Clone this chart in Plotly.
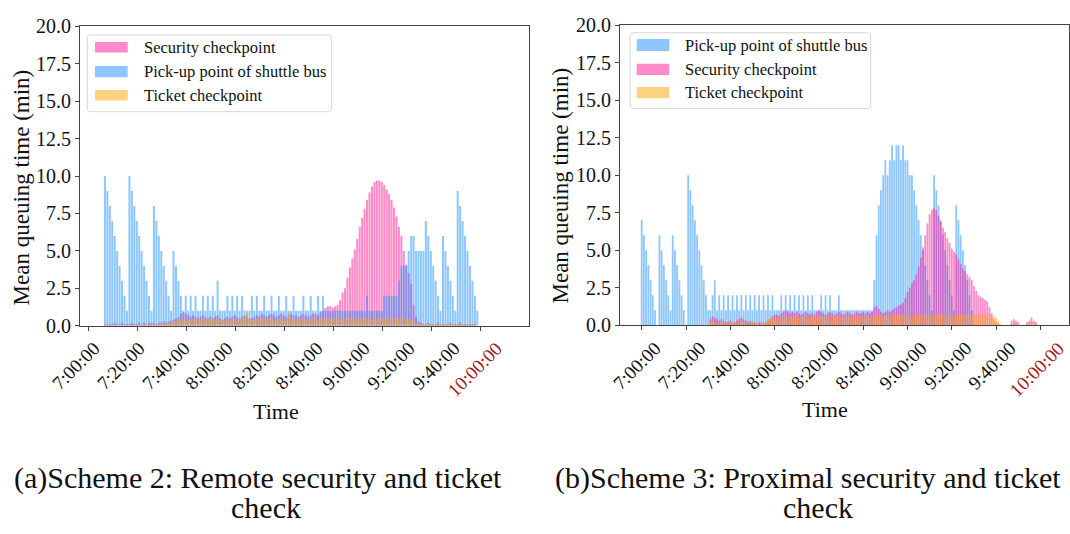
import plotly.graph_objects as go

W, H = 1070, 534

# ---------------- data ----------------
tick_labels = ["7:00:00", "7:20:00", "7:40:00", "8:00:00", "8:20:00",
               "8:40:00", "9:00:00", "9:20:00", "9:40:00", "10:00:00"]
tick_minutes = [0, 20, 40, 60, 80, 100, 120, 140, 160, 180]

series_names = ["Security checkpoint", "Pick-up point of shuttle bus", "Ticket checkpoint"]

# (a) Scheme 2 – one bar per minute, first bar at 7:06:30 on the axis scale
left_first_minute = 6.5
left_pickup = [
    10, 9, 8, 7, 6, 5, 4, 3, 2, 1,
    10, 9, 8, 7, 6, 5, 4, 3, 2, 1,
    8, 7, 6, 5, 4, 3, 2, 1,
    5, 4, 3, 2, 1,
    2, 1, 2, 1, 2, 1, 1, 2, 1, 2,
    1, 2, 1, 3, 1, 1, 1, 2, 1, 2,
    1, 2, 1, 2, 1, 1, 1, 2, 1, 2,
    1, 1, 2, 1, 1, 2, 1, 1, 2, 1,
    1, 2, 1, 1, 2, 1, 1, 1, 2, 1,
    1, 2, 1, 1, 2, 1, 2, 1, 1, 1,
    1, 1, 1, 1, 1, 1, 1, 1, 1, 1,
    1, 1, 1, 1, 2, 1, 1, 1, 1, 1,
    1, 2, 2, 2, 2, 2, 2, 3, 4, 4,
    4, 5, 6, 6, 5, 5, 5, 5, 7, 6,
    5, 4, 3, 2, 1, 6, 5, 4, 3, 2,
    1, 9, 8, 7, 6, 5, 4, 3, 2, 1,
]
left_security = [
    0.1, 0.1, 0.1, 0.1, 0.2, 0.1, 0.1, 0.2, 0.1, 0.1,
    0.1, 0.2, 0.1, 0.1, 0.2, 0.1, 0.2, 0.1, 0.2, 0.2,
    0.2, 0.1, 0.2, 0.2, 0.3, 0.2, 0.3, 0.3, 0.4, 0.5,
    0.6, 0.8, 0.9, 0.8, 0.7, 0.6, 0.7, 0.6, 0.5, 0.6,
    0.7, 0.6, 0.5, 0.6, 0.5, 0.6, 0.7, 0.5, 0.4, 0.5,
    0.6, 0.5, 0.6, 0.7, 0.6, 0.5, 0.6, 0.7, 0.6, 0.5,
    0.5, 0.6, 0.7, 0.6, 0.8, 0.7, 0.6, 0.7, 0.8, 0.7,
    0.6, 0.7, 0.8, 0.7, 0.6, 0.7, 0.8, 0.7, 0.7, 0.6,
    0.7, 0.8, 0.7, 0.6, 0.7, 0.8, 0.8, 0.7, 0.9, 1.0,
    1.2, 1.3, 1.3, 1.2, 1.3, 1.4, 1.7, 2.2, 2.5, 3.2,
    3.9, 4.5, 5.1, 5.8, 6.6, 7.2, 7.8, 8.4, 8.9, 9.3,
    9.6, 9.7, 9.7, 9.6, 9.4, 9.1, 8.8, 8.4, 7.9, 7.3,
    6.6, 6.0, 5.0, 4.1, 3.5, 2.8, 1.4, 0.6, 0.3, 0.2,
    0.1, 0.1, 0.2, 0.1, 0.1, 0.1, 0.2, 0.1, 0.1, 0.1,
    0.1, 0.2, 0.1, 0.1, 0.1, 0.2, 0.1, 0.1, 0.1, 0.1,
    0.1, 0.1, 0.0,
]
left_ticket = [
    0.0, 0.0, 0.0, 0.0, 0.1, 0.0, 0.0, 0.1, 0.0, 0.0,
    0.0, 0.1, 0.0, 0.0, 0.1, 0.0, 0.1, 0.0, 0.1, 0.1,
    0.1, 0.1, 0.1, 0.2, 0.2, 0.1, 0.2, 0.2, 0.3, 0.3,
    0.4, 0.5, 0.4, 0.4, 0.5, 0.4, 0.4, 0.5, 0.4, 0.4,
    0.5, 0.4, 0.4, 0.5, 0.4, 0.4, 0.5, 0.4, 0.3, 0.4,
    0.4, 0.4, 0.5, 0.4, 0.4, 0.4, 0.5, 0.6, 0.9, 0.4,
    0.4, 0.4, 0.5, 0.4, 0.5, 0.5, 0.4, 0.5, 0.5, 0.4,
    0.4, 0.5, 0.5, 0.4, 0.4, 0.9, 0.5, 0.5, 0.4, 0.4,
    0.5, 0.5, 0.4, 0.4, 0.5, 0.5, 0.5, 0.4, 0.5, 0.5,
    0.5, 0.5, 0.5, 0.5, 0.5, 0.4, 0.5, 0.5, 0.5, 0.5,
    0.5, 0.5, 0.5, 0.4, 0.5, 0.5, 0.5, 0.5, 0.5, 0.4,
    0.5, 0.5, 0.5, 0.5, 0.5, 0.4, 0.5, 0.5, 0.5, 0.5,
    0.5, 0.5, 0.5, 0.5, 0.4, 0.4, 0.3, 0.2, 0.1, 0.1,
    0.1, 0.1, 0.1, 0.1, 0.1, 0.1, 0.1, 0.1, 0.1, 0.1,
    0.1, 0.1, 0.1, 0.1, 0.1, 0.1, 0.1, 0.1, 0.1, 0.1,
    0.1, 0.1, 0.0,
]

# (b) Scheme 3 – one bar per minute from 7:00:00
right_first_minute = 0
right_pickup = [
    7, 6, 5, 4, 3, 2, 1,
    0,
    6, 5, 4, 3, 2, 1,
    6, 5, 4, 3, 2, 1,
    0,
    10, 9, 8, 7, 6, 5, 4, 3, 2, 1,
    1, 2, 3, 1, 2, 1, 2, 1, 2, 1,
    2, 1, 2, 1, 2, 1, 2, 1, 2, 1,
    2, 1, 2, 1, 2, 1, 2, 1, 2, 1,
    1, 1, 2, 1, 2, 1, 2, 1, 2, 1,
    2, 1, 2, 1, 2, 1, 2, 1, 1, 1,
    2, 1, 2, 1, 2, 1, 1, 1, 2, 1,
    1, 1, 1, 1, 1, 1, 1, 1, 1, 1,
    1, 1, 1, 1, 3, 6, 8, 9, 10, 11,
    10, 11, 12, 11, 12, 12, 11, 12, 11, 11,
    10, 10, 9, 8, 7, 6, 5, 4, 3, 2,
    1, 10, 9, 8, 7, 6, 5, 4, 3, 2,
    1, 8, 7, 6, 5, 4, 3, 2, 1,
]
right_security = [
    0, 0, 0, 0, 0, 0, 0, 0, 0, 0,
    0, 0, 0, 0, 0, 0, 0, 0, 0, 0,
    0, 0, 0, 0, 0, 0, 0, 0, 0, 0, 0,
    0.4, 0.6, 0.5, 0.4, 0.3, 0.4, 0.3, 0.2, 0.2, 0.3,
    0.2, 0.2, 0.3, 0.4, 0.5, 0.4, 0.3, 0.2, 0.3, 0.2,
    0.2, 0.1, 0.2, 0.2, 0.1, 0.2, 0.3, 0.4, 0.6, 0.7,
    0.7, 0.6, 0.8, 0.9, 1.0, 0.9, 0.8, 0.9, 0.8, 0.9,
    0.8, 0.7, 0.8, 0.9, 0.8, 0.7, 0.8, 0.7, 0.9, 1.0,
    0.9, 0.8, 0.7, 0.8, 0.9, 0.8, 0.7, 0.8, 0.9, 0.8,
    0.7, 0.8, 0.9, 0.8, 0.7, 0.8, 0.9, 0.8, 0.8, 0.9,
    0.8, 0.9, 0.8, 0.9, 1.2, 1.3, 1.1, 0.9, 0.8, 0.9,
    1.0, 0.9, 1.0, 1.1, 1.2, 1.3, 1.4, 1.5, 1.8, 2.2,
    2.5, 2.8, 3.0, 3.4, 3.9, 4.5, 5.2, 6.0, 6.8, 7.4,
    7.7, 7.8, 7.7, 7.3, 6.9, 6.5, 6.2, 5.8, 5.5, 5.1,
    4.9, 4.7, 4.4, 4.1, 3.8, 3.6, 3.4, 3.2, 3.0, 2.6,
    2.3, 2.0, 1.9, 1.8, 1.7, 1.6, 1.2, 0.8, 0.4, 0.2,
    0.1, 0, 0, 0, 0, 0, 0.3, 0.4, 0.3, 0.2,
    0, 0, 0, 0.2, 0.3, 0.5, 0.3, 0.2, 0,
]
right_ticket = [
    0, 0, 0, 0, 0, 0, 0, 0, 0, 0,
    0, 0, 0, 0, 0, 0, 0, 0, 0, 0,
    0, 0, 0, 0, 0, 0, 0, 0, 0, 0, 0,
    0.2, 0.3, 0.2, 0.1, 0.2, 0.2, 0.3, 0.2, 0.1, 0.2,
    0.2, 0.1, 0.2, 0.3, 0.3, 0.2, 0.2, 0.1, 0.2, 0.2,
    0.1, 0.2, 0.1, 0.1, 0.2, 0.3, 0.4, 0.5, 0.5, 0.4,
    0.5, 0.6, 0.5, 0.6, 0.6, 0.5, 0.6, 0.5, 0.6, 0.6,
    0.5, 0.6, 0.6, 0.5, 0.6, 0.5, 0.6, 0.6, 0.5, 0.6,
    0.6, 0.5, 0.6, 0.6, 0.5, 0.6, 0.6, 0.6, 0.5, 0.6,
    0.6, 0.5, 0.6, 0.6, 0.6, 0.5, 0.6, 0.6, 0.6, 0.5,
    0.6, 0.6, 0.5, 0.6, 0.7, 0.6, 0.6, 0.7, 0.6, 0.6,
    0.7, 0.6, 0.7, 0.7, 0.6, 0.7, 0.7, 0.7, 0.6, 0.7,
    0.7, 0.7, 0.7, 0.6, 0.7, 0.7, 0.7, 0.7, 0.7, 0.7,
    0.7, 0.7, 0.7, 0.7, 0.7, 0.7, 0.7, 0.6, 0.7, 0.7,
    0.7, 0.7, 0.7, 0.7, 0.7, 0.7, 0.7, 0.7, 0.7, 0.7,
    0.7, 0.7, 0.7, 0.7, 0.7, 0.7, 0.7, 0.6, 0.6, 0.5,
    0.3, 0.1, 0, 0, 0, 0, 0.1, 0.2, 0.1, 0.1,
    0, 0, 0, 0.1, 0.2, 0.1, 0.2, 0.1, 0,
]

captions = [["(a)Scheme 2: Remote security and ticket", "check"],
            ["(b)Scheme 3: Proximal security and ticket", "check"]]

# ---------------- styles ----------------
FONT = "Liberation Serif, Times New Roman, serif"
C_SEC = "rgba(255,20,147,0.5)"
C_BUS = "rgba(30,144,255,0.5)"
C_TIC = "rgba(255,165,0,0.5)"
S_SEC = "rgb(255,138,201)"
S_BUS = "rgb(142,199,255)"
S_TIC = "rgb(255,210,128)"
AX = "#444444"
RED = "#a31a1a"


def minutes(first, n):
    return [first + i for i in range(n)]


def bar(xv, yv, color, xa, ya):
    return go.Bar(x=xv, y=yv, width=0.82, marker=dict(color=color, line=dict(width=0)),
                  xaxis=xa, yaxis=ya, showlegend=False, hoverinfo="skip")


fig = go.Figure()
# left panel: security, pick-up, ticket
fig.add_trace(bar(minutes(left_first_minute, len(left_security)), left_security, C_SEC, "x", "y"))
fig.add_trace(bar(minutes(left_first_minute, len(left_pickup)), left_pickup, C_BUS, "x", "y"))
fig.add_trace(bar(minutes(left_first_minute, len(left_ticket)), left_ticket, C_TIC, "x", "y"))
# right panel: pick-up, security, ticket
fig.add_trace(bar(minutes(right_first_minute, len(right_pickup)), right_pickup, C_BUS, "x2", "y2"))
fig.add_trace(bar(minutes(right_first_minute, len(right_security)), right_security, C_SEC, "x2", "y2"))
fig.add_trace(bar(minutes(right_first_minute, len(right_ticket)), right_ticket, C_TIC, "x2", "y2"))


def px(x):
    return x / W


def py(y):
    return 1 - y / H


yticks = [0, 2.5, 5, 7.5, 10, 12.5, 15, 17.5, 20]
common_x = dict(showline=True, mirror=True, linecolor=AX, linewidth=1, ticks="outside",
                ticklen=4, tickcolor=AX, tickwidth=1, tickvals=tick_minutes,
                showticklabels=False, showgrid=False, zeroline=False)
common_y = dict(showline=True, mirror=True, linecolor=AX, linewidth=1, ticks="outside",
                ticklen=4, tickcolor=AX, tickwidth=1, tickvals=yticks, tickformat=".1f",
                range=[0, 20], showgrid=False, zeroline=False,
                tickfont=dict(family=FONT, size=20, color="#111"))

fig.update_layout(
    width=W, height=H, margin=dict(l=0, r=0, t=0, b=0),
    paper_bgcolor="white", plot_bgcolor="white", barmode="overlay",
    showlegend=False,
    xaxis=dict(domain=[px(80), px(529)], range=[-3.67, 179.6], anchor="y", **common_x),
    yaxis=dict(domain=[py(328.3), py(16)], anchor="x", **common_y),
    xaxis2=dict(domain=[px(620), px(1069)], range=[-9.8, 192.9], anchor="y2", **common_x),
    yaxis2=dict(domain=[py(327.7), py(15)], anchor="x2", **common_y),
)

ann = []
shapes = []

# rotated time labels
left_label_right = [107, 152, 197, 240, 287, 330, 377, 422, 467, 509]
right_label_right = [668, 712.5, 757, 801, 845.5, 890, 934, 978.5, 1023, 1071]
for right_ends in (left_label_right, right_label_right):
    for lab, xr in zip(tick_labels, right_ends):
        ann.append(dict(text=lab, x=px(xr), y=py(338), xref="paper", yref="paper",
                        xanchor="right", yanchor="top", textangle=-45, showarrow=False,
                        font=dict(family=FONT, size=19, color=RED if lab == "10:00:00" else "#111")))

# axis titles
for xc, yc in ((21, 184), (561, 182)):
    ann.append(dict(text="Mean queuing time (min)", x=px(xc), y=py(yc), xref="paper", yref="paper",
                    textangle=-90, showarrow=False, xanchor="center", yanchor="middle",
                    font=dict(family=FONT, size=23, color="#111")))
for xc, yc in ((276, 418), (825, 416)):
    ann.append(dict(text="Time", x=px(xc), y=py(yc), xref="paper", yref="paper",
                    showarrow=False, xanchor="center", yanchor="middle",
                    font=dict(family=FONT, size=22, color="#111")))

# captions
for (l1, l2), x_left, x_mid in zip(captions, (12, 553), (266, 818)):
    ann.append(dict(text=l1, x=px(x_left), y=py(487), xref="paper", yref="paper",
                    showarrow=False, xanchor="left", yanchor="middle",
                    font=dict(family=FONT, size=30, color="#111")))
    ann.append(dict(text=l2, x=px(x_mid), y=py(518), xref="paper", yref="paper",
                    showarrow=False, xanchor="center", yanchor="middle",
                    font=dict(family=FONT, size=30, color="#111")))


# legends (drawn manually)
def P(x, y):
    return f"{px(x):.5f},{py(y):.5f}"


def rrect(x0, y0, x1, y1, r):
    return (f"M{P(x0 + r, y0)} L{P(x1 - r, y0)} Q{P(x1, y0)} {P(x1, y0 + r)} "
            f"L{P(x1, y1 - r)} Q{P(x1, y1)} {P(x1 - r, y1)} L{P(x0 + r, y1)} "
            f"Q{P(x0, y1)} {P(x0, y1 - r)} L{P(x0, y0 + r)} Q{P(x0, y0)} {P(x0 + r, y0)} Z")


legends = [
    dict(box=(87.3, 25, 331.7, 105), patch_x=(95, 127.7),
         rows=[(32.3, 43.3), (57.3, 69), (82.3, 93.3)], text_x=141.7,
         items=[(series_names[0], S_SEC), (series_names[1], S_BUS), (series_names[2], S_TIC)]),
    dict(box=(630, 22.7, 870.7, 101.7), patch_x=(636.7, 669.3),
         rows=[(29.3, 41.7), (55, 66.7), (79.3, 91)], text_x=683.3,
         items=[(series_names[1], S_BUS), (series_names[0], S_SEC), (series_names[2], S_TIC)]),
]
for lg in legends:
    x0, y0, x1, y1 = lg["box"]
    shapes.append(dict(type="path", path=rrect(x0, y0, x1, y1, 4), xref="paper", yref="paper",
                       line=dict(color="#d6d6d6", width=1), fillcolor="rgba(255,255,255,0.85)"))
    for (name, col), (ra, rb) in zip(lg["items"], lg["rows"]):
        shapes.append(dict(type="rect", xref="paper", yref="paper",
                           x0=px(lg["patch_x"][0]), x1=px(lg["patch_x"][1]),
                           y0=py(rb), y1=py(ra), fillcolor=col, line=dict(width=0)))
        ann.append(dict(text=name, x=px(lg["text_x"]), y=py((ra + rb) / 2), xref="paper", yref="paper",
                        showarrow=False, xanchor="left", yanchor="middle",
                        font=dict(family=FONT, size=16.5, color="#111")))

fig.update_layout(annotations=ann, shapes=shapes)
fig.write_html("out.html")
